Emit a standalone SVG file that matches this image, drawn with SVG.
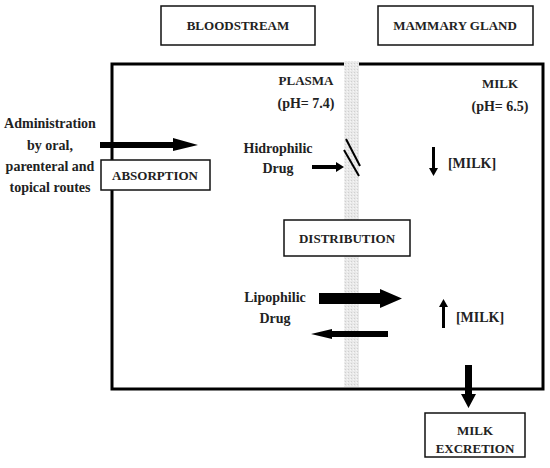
<svg xmlns="http://www.w3.org/2000/svg" width="550" height="468" viewBox="0 0 550 468">
<style>
text{font-family:"Liberation Serif","DejaVu Serif",serif;font-weight:bold;fill:#222;}
.t{font-size:13px;text-anchor:middle;}
.l{font-size:14px;}
.box{fill:#fff;stroke:#111;stroke-width:1.5;}
.arw{fill:#000;}
</style>
<defs>
<pattern id="dots" width="3" height="3" patternUnits="userSpaceOnUse">
<rect width="3" height="3" fill="#e9e9e9"/>
<rect x="0" y="0" width="1" height="1" fill="#d0d0d0"/>
<rect x="2" y="1" width="1" height="1" fill="#f6f6f6"/>
</pattern>
</defs>
<rect width="550" height="468" fill="#fff"/>
<g id="main-box">
<rect x="112" y="64" width="431" height="325" fill="none" stroke="#000" stroke-width="3"/>
</g>
<g id="membrane">
<rect x="344" y="61" width="15" height="326" fill="url(#dots)"/>
</g>
<g id="bloodstream"><rect class="box" x="161" y="6" width="154" height="39" stroke-width="2"/><text class="t" x="238" y="30">BLOODSTREAM</text></g>
<g id="mammary"><rect class="box" x="378" y="6" width="155" height="39" stroke-width="2"/><text class="t" x="455" y="30">MAMMARY GLAND</text></g>
<g id="plasma"><text class="t" x="306" y="85">PLASMA</text><text class="t l" x="306" y="108">(pH= 7.4)</text></g>
<g id="milk"><text class="t" x="500" y="88">MILK</text><text class="t l" x="500" y="111">(pH= 6.5)</text></g>
<g id="administration"><text class="t l" x="50" y="128">Administration</text><text class="t l" x="50" y="150">by oral,</text><text class="t l" x="50" y="171">parenteral and</text><text class="t l" x="50" y="192">topical routes</text></g>
<g id="connectors">
<polygon class="arw" points="100,142 173,142 173,138 198,145 173,151 173,148 100,148"/>
<polygon class="arw" points="312,165 336,165 336,162 344,167 336,172 336,169 312,169"/>
<line x1="346" y1="139" x2="360" y2="166" stroke="#000" stroke-width="2"/>
<line x1="344" y1="150" x2="359" y2="176" stroke="#000" stroke-width="2"/>
<polygon class="arw" points="432,147 435,147 435,168 438,168 433.5,176 429,168 432,168"/>
<polygon class="arw" points="319,293 380,293 380,289 402,298.5 380,308 380,304 319,304"/>
<polygon class="arw" points="388,331 332,331 332,329 311,334 332,339 332,337 388,337"/>
<polygon class="arw" points="442,328 445,328 445,307 448,307 443.5,299 439,307 442,307"/>
<polygon class="arw" points="465,365 472,365 472,394 476,394 468.5,408 461,394 465,394"/>
</g>
<g id="absorption"><rect class="box" x="101" y="160" width="109" height="30"/><text class="t" x="155" y="180">ABSORPTION</text></g>
<g id="hidrophilic"><text class="t l" x="278" y="153">Hidrophilic</text><text class="t l" x="278" y="173">Drug</text></g>
<g id="milk-down"><text class="t l" x="472" y="168">[MILK]</text></g>
<g id="distribution"><rect class="box" x="284" y="220" width="126" height="36"/><text class="t" x="347" y="243">DISTRIBUTION</text></g>
<g id="lipophilic"><text class="t l" x="275" y="302">Lipophilic</text><text class="t l" x="275" y="323">Drug</text></g>
<g id="milk-up"><text class="t l" x="480" y="322">[MILK]</text></g>
<g id="excretion"><rect class="box" x="425" y="413" width="100" height="44"/><text class="t" x="475" y="435">MILK</text><text class="t" x="475" y="453">EXCRETION</text></g>
</svg>
